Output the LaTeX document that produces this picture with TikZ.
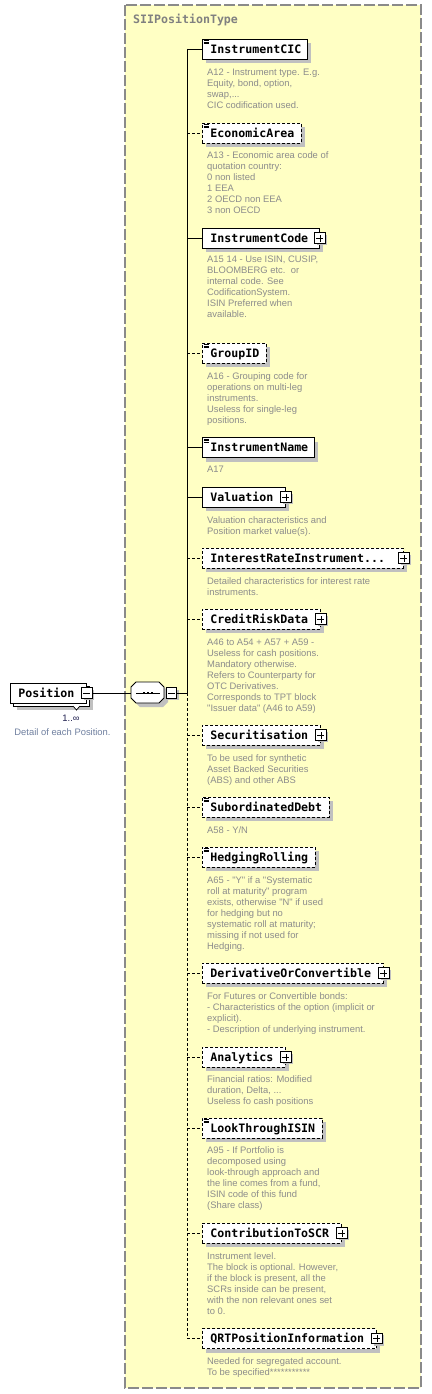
\documentclass[tikz,border=0pt]{standalone}
\usepackage{fontspec}
\newfontfamily\namefam{DejaVu Sans Mono}
\newfontfamily\descfam{Liberation Sans}
\usetikzlibrary{shadows}
\definecolor{ybg}{HTML}{FFFFC4}
\definecolor{bordergray}{HTML}{8A8A8A}
\definecolor{shadowgray}{HTML}{C0C0C0}
\definecolor{descgray}{HTML}{8C8C8C}
\definecolor{titlegray}{HTML}{808080}
\definecolor{notegray}{HTML}{7080A0}
\definecolor{navy}{HTML}{202050}
\tikzset{
 basebox/.style={draw, fill=white, line width=0.9pt, minimum height=20pt, inner xsep=8pt, inner ysep=0pt, anchor=west, text height=8.5pt, text depth=0pt, font=\namefam\bfseries\fontsize{11.6}{12}\selectfont},
 elembox/.style={basebox, drop shadow={shadow xshift=4pt, shadow yshift=-4pt, fill=shadowgray, opacity=1, draw=none}},
 optional/.style={dash pattern=on 3pt off 2pt},
 conn/.style={line width=0.9pt},
 pmbox/.style={draw, fill=white, line width=1.3pt, minimum size=10.5pt, inner sep=0pt, drop shadow={shadow xshift=2pt, shadow yshift=-2pt, fill=shadowgray, opacity=1, draw=none}},
 pmline/.style={line width=0.8pt},
 desc/.style={anchor=base west, inner sep=0pt, text=descgray, font=\descfam\fontsize{9.4}{11}\selectfont},
}
% #1 name, #2 y, #3 width, #4 label, #5 line style, #6 plus, #7 icon
\newcommand\xelem[7]{%
 \node[elembox, #5, minimum width=#3pt] (#1) at (202,#2) {\makebox[\dimexpr#3pt-16pt\relax][l]{#4}};
 \draw[conn, #5] (#1.west -| trunk) -- (#1.west);
 \ifnum#6=1
  \node[pmbox] (#1plus) at (#1.east) {};
  \draw[pmline] ([xshift=-3.5pt]#1plus.center) -- ([xshift=3.5pt]#1plus.center)
                ([yshift=-3.5pt]#1plus.center) -- ([yshift=3.5pt]#1plus.center);
 \fi
 \ifnum#7=1
  \draw[line width=0.55pt] ([shift={(1.5,2.2)}]#1.north west) -- ++(5,0)
                           ([shift={(1.5,3.7)}]#1.north west) -- ++(5,0)
                           ([shift={(1.5,5.2)}]#1.north west) -- ++(5,0);
 \fi
}
\newcommand\xdesc[3]{\node[desc] (#1) at (207,#2) {\parbox[t]{215pt}{\raggedright #3}};}

\begin{document}
\begin{tikzpicture}[x=1pt,y=-1pt]
\useasboundingbox (0,0) rectangle (431,1394);
\fill[white] (0,0) rectangle (431,1394);
% complex type frame
\draw[fill=ybg, draw=bordergray, line width=1.2pt, dash pattern=on 11pt off 3pt] (125,5) rectangle (421,1388);
\node[anchor=west, inner sep=0pt, text=titlegray, font=\namefam\bfseries\fontsize{11.6}{12}\selectfont] (title) at (133,20) {SIIPositionType};

\coordinate (trunk) at (187,693);

\xelem{cic}{49}{105}{InstrumentCIC}{solid}{0}{1}
\xdesc{cicd}{75.5}{A12 - Instrument type. E.g.\\Equity, bond, option,\\swap,...\\CIC codification used.}
\xelem{econ}{133}{99}{EconomicArea}{optional}{0}{1}
\xdesc{econd}{158}{A13 - Economic area code of\\quotation country:\\0 non listed\\1 EEA\\2 OECD non EEA\\3 non OECD}
\xelem{icode}{238}{117}{InstrumentCode}{solid}{1}{0}
\xdesc{icoded}{262.8}{A15 14 - Use ISIN, CUSIP,\\BLOOMBERG etc.\ \ or\\internal code. See\\CodificationSystem.\\ISIN Preferred when\\available.}
\xelem{group}{353}{64}{GroupID}{optional}{0}{1}
\xdesc{groupd}{379}{A16 - Grouping code for\\operations on multi-leg\\instruments.\\Useless for single-leg\\positions.}
\xelem{iname}{447.5}{112}{InstrumentName}{solid}{0}{1}
\xdesc{inamed}{472.5}{A17}
\xelem{valu}{497}{83}{Valuation}{solid}{1}{0}
\xdesc{valud}{523}{Valuation characteristics and\\Position market value(s).}
\xelem{irate}{558}{201}{InterestRateInstrument...}{optional}{1}{0}
\xdesc{irated}{584}{Detailed characteristics for interest rate\\instruments.}
\xelem{credit}{619}{118}{CreditRiskData}{optional}{1}{0}
\xdesc{creditd}{645}{A46 to A54 + A57 + A59 -\\Useless for cash positions.\\Mandatory otherwise.\\Refers to Counterparty for\\OTC Derivatives.\\Corresponds to TPT block\\"Issuer data" (A46 to A59)}
\xelem{secur}{735}{118}{Securitisation}{optional}{1}{0}
\xdesc{securd}{761}{To be used for synthetic\\Asset Backed Securities\\(ABS) and other ABS}
\xelem{subord}{807}{127}{SubordinatedDebt}{optional}{0}{1}
\xdesc{subordd}{833}{A58 - Y/N}
\xelem{hedge}{857}{113}{HedgingRolling}{optional}{0}{1}
\xdesc{hedged}{883}{A65 - "Y" if a "Systematic\\roll at maturity" program\\exists, otherwise "N" if used\\for hedging but no\\systematic roll at maturity;\\missing if not used for\\Hedging.}
\xelem{deriv}{973}{181}{DerivativeOrConvertible}{optional}{1}{0}
\xdesc{derivd}{999}{For Futures or Convertible bonds:\\- Characteristics of the option (implicit or\\explicit).\\- Description of underlying instrument.}
\xelem{analyt}{1057}{83}{Analytics}{optional}{1}{0}
\xdesc{analytd}{1082}{Financial ratios: Modified\\duration, Delta, ...\\Useless fo cash positions}
\xelem{look}{1128}{120}{LookThroughISIN}{optional}{0}{1}
\xdesc{lookd}{1153.5}{A95 - If Portfolio is\\decomposed using\\look-through approach and\\the line comes from a fund,\\ISIN code of this fund\\(Share class)}
\xelem{contrib}{1233}{139}{ContributionToSCR}{optional}{1}{0}
\xdesc{contribd}{1259}{Instrument level.\\The block is optional. However,\\if the block is present, all the\\SCRs inside can be present,\\with the non relevant ones set\\to 0.}
\xelem{qrt}{1338.5}{174}{QRTPositionInformation}{optional}{1}{0}
\xdesc{qrtd}{1364}{Needed for segregated account.\\To be specified***********}

% trunk
\draw[conn] (cic.west -| trunk) -- (trunk);
\draw[conn, optional] (trunk) -- (qrt.west -| trunk);

% sequence compositor
\fill[shadowgray] (135,691) -- (140,686) -- (163,686) -- (168,691) -- (168,702) -- (163,707) -- (140,707) -- (135,702) -- cycle;
\draw[fill=white, line width=0.9pt] (131,687) -- (136,682) -- (159,682) -- (164,687) -- (164,698) -- (159,703) -- (136,703) -- (131,698) -- cycle;
\node[minimum width=33pt, minimum height=21pt, inner sep=0pt] (seq) at (147.5,693) {};
\draw[line width=0.9pt] ([xshift=-11.5pt]seq.center) -- ([xshift=12.5pt]seq.center);
\foreach \dx in {-3.5,0.5,4.5} \fill ([xshift=\dx pt]seq.center) ++(-1.3,-1.3) rectangle ++(2.6,2.6);
\node[pmbox] (seqminus) at (171.5,693) {};
\draw[pmline] ([xshift=-3.5pt]seqminus.center) -- ([xshift=3.5pt]seqminus.center);
\draw[conn] (seqminus.east) -- (trunk);

% Position element (repeating)
\node[basebox, minimum width=76pt, drop shadow={shadow xshift=4pt, shadow yshift=-4pt, fill=shadowgray, opacity=1, draw=none}] (posback) at (13,696) {};
\draw[fill=white, line width=0.7pt] (73,706) -- (76.5,710) -- (80,706);
\node[basebox, minimum width=76pt] (pos) at (10,693) {\makebox[60pt][l]{Position}};
\node[pmbox] (posminus) at (pos.east) {};
\draw[pmline] ([xshift=-3.5pt]posminus.center) -- ([xshift=3.5pt]posminus.center);
\draw[conn] (posminus.east) -- (seq.west);
\node[inner sep=0pt, text=navy, font=\descfam\fontsize{9.4}{11}\selectfont] (card) at (71,718) {1..∞};
\node[inner sep=0pt, text=notegray, font=\descfam\fontsize{9.4}{11}\selectfont] (posd) at (62.5,732) {Detail of each Position.};
\end{tikzpicture}
\end{document}
